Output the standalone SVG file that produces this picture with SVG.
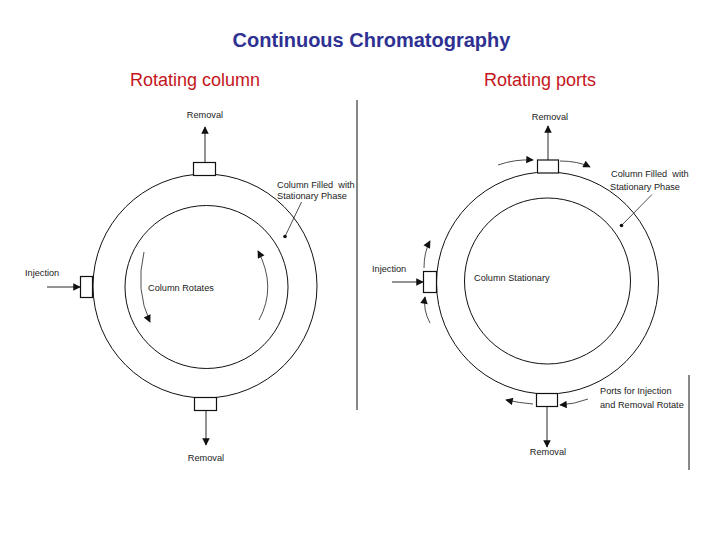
<svg xmlns="http://www.w3.org/2000/svg" width="720" height="540" viewBox="0 0 720 540">
<defs>
<marker id="ah" viewBox="0 0 10 10" refX="9" refY="5" markerWidth="10" markerHeight="7.5" markerUnits="userSpaceOnUse" orient="auto">
<path d="M0,0 L10,5 L0,10 z" fill="#111"/>
</marker>
</defs>
<style>
.title{font-family:"Liberation Sans",Arial,sans-serif;font-weight:bold;font-size:20px;fill:#2E3192}
.sub{font-family:"Liberation Sans",Arial,sans-serif;font-size:18px;fill:#C4161C}
.lbl{font-family:"Liberation Sans",Arial,sans-serif;font-size:9.2px;fill:#222;white-space:pre}
.ln{fill:none;stroke:#111;stroke-width:1}
.thin{fill:none;stroke:#222;stroke-width:0.8}
.box{fill:#fff;stroke:#111;stroke-width:1.2}
.arr{fill:none;stroke:#111;stroke-width:0.9;marker-end:url(#ah)}
.arc{fill:none;stroke:#222;stroke-width:0.8;marker-end:url(#ah)}
</style>
<rect width="720" height="540" fill="#fff"/>
<text class="title" x="371.5" y="47" text-anchor="middle">Continuous Chromatography</text>
<text class="sub" x="130" y="86">Rotating column</text>
<text class="sub" x="484" y="86">Rotating ports</text>

<g id="dividers">
<line class="ln" x1="357" y1="100" x2="357" y2="410"/>
<line class="ln" x1="689" y1="375" x2="689" y2="470"/>
</g>

<g id="left-column">
<circle class="ln" cx="205" cy="286" r="112"/>
<circle class="ln" cx="206.5" cy="287" r="81.5"/>
</g>
<g id="left-port-top"><rect class="box" x="193.5" y="162.5" width="22" height="13"/></g>
<g id="left-port-bottom"><rect class="box" x="194.5" y="397.5" width="22" height="13"/></g>
<g id="left-port-inj"><rect class="box" x="80.5" y="276.5" width="12" height="21"/></g>
<g id="left-labels">
<text class="lbl" x="205" y="118" text-anchor="middle">Removal</text>
<text class="lbl" x="206" y="461" text-anchor="middle">Removal</text>
<text class="lbl" x="25" y="276">Injection</text>
<text class="lbl" x="277" y="188" xml:space="preserve">Column Filled  with</text>
<text class="lbl" x="277" y="199">Stationary Phase</text>
<text class="lbl" x="148" y="291">Column Rotates</text>
</g>

<g id="right-column">
<circle class="ln" cx="547.5" cy="283" r="111"/>
<circle class="ln" cx="547.5" cy="281" r="83"/>
</g>
<g id="right-port-top"><rect class="box" x="537.5" y="160" width="21" height="13"/></g>
<g id="right-port-bottom"><rect class="box" x="536.5" y="393.5" width="21" height="13"/></g>
<g id="right-port-inj"><rect class="box" x="423.5" y="271.5" width="13" height="21"/></g>
<g id="right-labels">
<text class="lbl" x="550" y="120" text-anchor="middle">Removal</text>
<text class="lbl" x="548" y="455" text-anchor="middle">Removal</text>
<text class="lbl" x="372" y="272">Injection</text>
<text class="lbl" x="611" y="177" xml:space="preserve">Column Filled  with</text>
<text class="lbl" x="610" y="190">Stationary Phase</text>
<text class="lbl" x="474" y="281">Column Stationary</text>
<text class="lbl" x="600" y="394">Ports for Injection</text>
<text class="lbl" x="600" y="408">and Removal Rotate</text>
</g>

<g id="connectors">
<line class="arr" x1="205" y1="162" x2="205" y2="127"/>
<line class="arr" x1="206" y1="411" x2="206" y2="445"/>
<line class="arr" x1="47" y1="287" x2="80" y2="287"/>
<path class="arc" d="M144,252 Q135,290 150,322"/>
<path class="arc" d="M259,320 Q277,287 258,251"/>
<line class="thin" x1="301.5" y1="202" x2="285" y2="236.5"/>
<circle cx="285" cy="236.5" r="1.8" fill="#111"/>

<line class="arr" x1="548" y1="160" x2="548" y2="126"/>
<line class="arr" x1="547" y1="406" x2="547" y2="447"/>
<line class="arr" x1="392" y1="282" x2="423" y2="282"/>
<path class="arc" d="M498,165 Q515,159 533,160"/>
<path class="arc" d="M560,161 Q578,161 590,167"/>
<path class="arc" d="M424,268 Q424,252 430,241"/>
<path class="arc" d="M430,323 Q423,310 425,297"/>
<path class="arc" d="M533,404 Q520,403 506,400"/>
<path class="arc" d="M588,399 Q575,404 560,405"/>
<line class="thin" x1="652" y1="194.5" x2="621.5" y2="225.5"/>
<circle cx="621.5" cy="225.5" r="1.8" fill="#111"/>
</g>
</svg>
